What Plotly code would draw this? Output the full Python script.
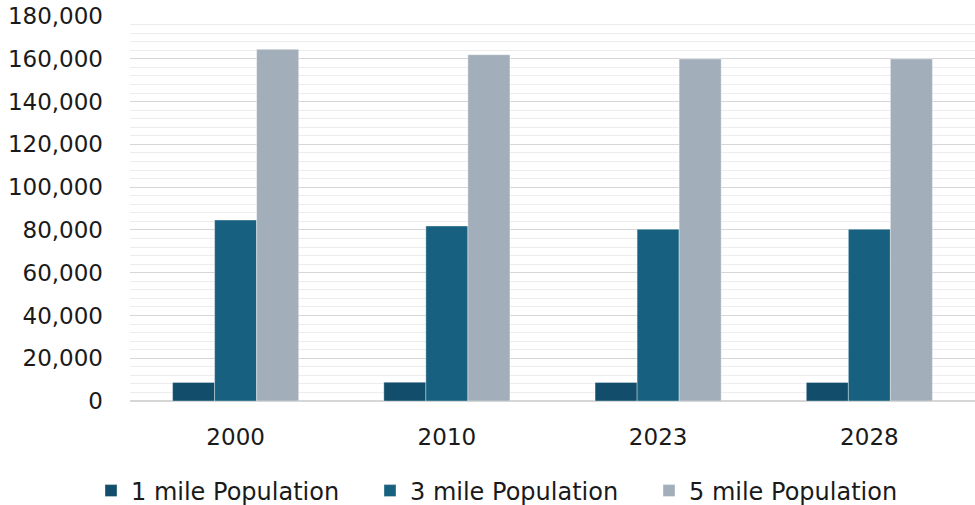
import plotly.graph_objects as go

years = ["2000", "2010", "2023", "2028"]
pop_1mile = [8700, 8800, 8700, 8700]
pop_3mile = [84600, 81800, 80300, 80300]
pop_5mile = [164400, 161900, 159900, 159900]
series_names = ["1 mile Population", "3 mile Population", "5 mile Population"]
colors = ["#124E6B", "#17607F", "#A2AFBA"]
y_ticks = list(range(0, 180001, 20000))

fig = go.Figure()
for name, vals, col in zip(series_names, [pop_1mile, pop_3mile, pop_5mile], colors):
    fig.add_trace(go.Bar(x=years, y=vals, name=name,
                         marker=dict(color=col, line=dict(width=0.6, color="rgba(255,255,255,0.6)"))))

FONT = "DejaVu Sans"
fig.update_layout(
    width=975, height=505,
    barmode="group", bargap=0.403, bargroupgap=0,
    plot_bgcolor="white", paper_bgcolor="white",
    margin=dict(l=130, r=0, t=16, b=104, autoexpand=False),
    font=dict(family=FONT, size=23, color="#1a1a1a"),
    showlegend=True,
    legend=dict(orientation="h", xref="container", x=91/975, xanchor="left",
                yref="container", y=(505-491)/505, yanchor="middle",
                font=dict(size=24), itemwidth=30, traceorder="normal",
                entrywidth=234, entrywidthmode="pixels", borderwidth=0),
    xaxis=dict(showgrid=False, showline=False, ticks="", tickfont=dict(size=23), ticklabelstandoff=20),
    yaxis=dict(range=[0, 180000], tickvals=y_ticks, tickformat=",d",
               showgrid=True, gridcolor="#D6D6D6", gridwidth=1.4,
               minor=dict(dtick=4000, showgrid=True, gridcolor="#EDEDED", gridwidth=1.4),
               zeroline=True, zerolinecolor="#D6D6D6", zerolinewidth=1.6,
               showline=False, ticks="", tickfont=dict(size=23), ticklabelstandoff=26),
)
fig.write_html("out.html")
